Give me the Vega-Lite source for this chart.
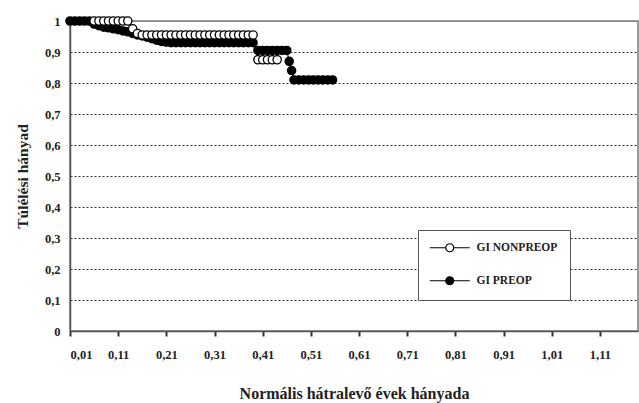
{
  "$schema": "https://vega.github.io/schema/vega-lite/v6.json",
  "width": 568,
  "height": 310,
  "autosize": {"type": "none"},
  "padding": {"left": 70, "top": 21, "right": 1, "bottom": 72},
  "background": "white",
  "config": {
    "font": "Liberation Serif",
    "view": {"stroke": "#777", "strokeWidth": 1.5}
  },
  "data": {
    "values": [
      {"s": "GI PREOP", "x": 0.01, "y": 1},
      {"s": "GI PREOP", "x": 0.02, "y": 1},
      {"s": "GI PREOP", "x": 0.03, "y": 1},
      {"s": "GI PREOP", "x": 0.04, "y": 1},
      {"s": "GI PREOP", "x": 0.05, "y": 1},
      {"s": "GI PREOP", "x": 0.06, "y": 0.99},
      {"s": "GI PREOP", "x": 0.07, "y": 0.985},
      {"s": "GI PREOP", "x": 0.08, "y": 0.98},
      {"s": "GI PREOP", "x": 0.09, "y": 0.978},
      {"s": "GI PREOP", "x": 0.10, "y": 0.975},
      {"s": "GI PREOP", "x": 0.11, "y": 0.972},
      {"s": "GI PREOP", "x": 0.12, "y": 0.968},
      {"s": "GI PREOP", "x": 0.13, "y": 0.965},
      {"s": "GI PREOP", "x": 0.14, "y": 0.96},
      {"s": "GI PREOP", "x": 0.15, "y": 0.955},
      {"s": "GI PREOP", "x": 0.16, "y": 0.952},
      {"s": "GI PREOP", "x": 0.17, "y": 0.948},
      {"s": "GI PREOP", "x": 0.18, "y": 0.943},
      {"s": "GI PREOP", "x": 0.19, "y": 0.938},
      {"s": "GI PREOP", "x": 0.20, "y": 0.934},
      {"s": "GI PREOP", "x": 0.21, "y": 0.932},
      {"s": "GI PREOP", "x": 0.22, "y": 0.93},
      {"s": "GI PREOP", "x": 0.23, "y": 0.93},
      {"s": "GI PREOP", "x": 0.24, "y": 0.93},
      {"s": "GI PREOP", "x": 0.25, "y": 0.93},
      {"s": "GI PREOP", "x": 0.26, "y": 0.93},
      {"s": "GI PREOP", "x": 0.27, "y": 0.93},
      {"s": "GI PREOP", "x": 0.28, "y": 0.93},
      {"s": "GI PREOP", "x": 0.29, "y": 0.93},
      {"s": "GI PREOP", "x": 0.30, "y": 0.93},
      {"s": "GI PREOP", "x": 0.31, "y": 0.93},
      {"s": "GI PREOP", "x": 0.32, "y": 0.93},
      {"s": "GI PREOP", "x": 0.33, "y": 0.93},
      {"s": "GI PREOP", "x": 0.34, "y": 0.93},
      {"s": "GI PREOP", "x": 0.35, "y": 0.93},
      {"s": "GI PREOP", "x": 0.36, "y": 0.93},
      {"s": "GI PREOP", "x": 0.37, "y": 0.93},
      {"s": "GI PREOP", "x": 0.38, "y": 0.93},
      {"s": "GI PREOP", "x": 0.39, "y": 0.93},
      {"s": "GI PREOP", "x": 0.40, "y": 0.905},
      {"s": "GI PREOP", "x": 0.41, "y": 0.905},
      {"s": "GI PREOP", "x": 0.42, "y": 0.905},
      {"s": "GI PREOP", "x": 0.43, "y": 0.905},
      {"s": "GI PREOP", "x": 0.44, "y": 0.905},
      {"s": "GI PREOP", "x": 0.45, "y": 0.905},
      {"s": "GI PREOP", "x": 0.46, "y": 0.905},
      {"s": "GI PREOP", "x": 0.465, "y": 0.87},
      {"s": "GI PREOP", "x": 0.47, "y": 0.84},
      {"s": "GI PREOP", "x": 0.475, "y": 0.81},
      {"s": "GI PREOP", "x": 0.485, "y": 0.81},
      {"s": "GI PREOP", "x": 0.495, "y": 0.81},
      {"s": "GI PREOP", "x": 0.505, "y": 0.81},
      {"s": "GI PREOP", "x": 0.515, "y": 0.81},
      {"s": "GI PREOP", "x": 0.525, "y": 0.81},
      {"s": "GI PREOP", "x": 0.535, "y": 0.81},
      {"s": "GI PREOP", "x": 0.545, "y": 0.81},
      {"s": "GI PREOP", "x": 0.555, "y": 0.81},
      {"s": "GI NONPREOP", "x": 0.06, "y": 1},
      {"s": "GI NONPREOP", "x": 0.07, "y": 1},
      {"s": "GI NONPREOP", "x": 0.08, "y": 1},
      {"s": "GI NONPREOP", "x": 0.09, "y": 1},
      {"s": "GI NONPREOP", "x": 0.10, "y": 1},
      {"s": "GI NONPREOP", "x": 0.11, "y": 1},
      {"s": "GI NONPREOP", "x": 0.12, "y": 1},
      {"s": "GI NONPREOP", "x": 0.13, "y": 1},
      {"s": "GI NONPREOP", "x": 0.14, "y": 0.975},
      {"s": "GI NONPREOP", "x": 0.15, "y": 0.96},
      {"s": "GI NONPREOP", "x": 0.16, "y": 0.955},
      {"s": "GI NONPREOP", "x": 0.17, "y": 0.955},
      {"s": "GI NONPREOP", "x": 0.18, "y": 0.955},
      {"s": "GI NONPREOP", "x": 0.19, "y": 0.955},
      {"s": "GI NONPREOP", "x": 0.20, "y": 0.955},
      {"s": "GI NONPREOP", "x": 0.21, "y": 0.955},
      {"s": "GI NONPREOP", "x": 0.22, "y": 0.955},
      {"s": "GI NONPREOP", "x": 0.23, "y": 0.955},
      {"s": "GI NONPREOP", "x": 0.24, "y": 0.955},
      {"s": "GI NONPREOP", "x": 0.25, "y": 0.955},
      {"s": "GI NONPREOP", "x": 0.26, "y": 0.955},
      {"s": "GI NONPREOP", "x": 0.27, "y": 0.955},
      {"s": "GI NONPREOP", "x": 0.28, "y": 0.955},
      {"s": "GI NONPREOP", "x": 0.29, "y": 0.955},
      {"s": "GI NONPREOP", "x": 0.30, "y": 0.955},
      {"s": "GI NONPREOP", "x": 0.31, "y": 0.955},
      {"s": "GI NONPREOP", "x": 0.32, "y": 0.955},
      {"s": "GI NONPREOP", "x": 0.33, "y": 0.955},
      {"s": "GI NONPREOP", "x": 0.34, "y": 0.955},
      {"s": "GI NONPREOP", "x": 0.35, "y": 0.955},
      {"s": "GI NONPREOP", "x": 0.36, "y": 0.955},
      {"s": "GI NONPREOP", "x": 0.37, "y": 0.955},
      {"s": "GI NONPREOP", "x": 0.38, "y": 0.955},
      {"s": "GI NONPREOP", "x": 0.39, "y": 0.955},
      {"s": "GI NONPREOP", "x": 0.40, "y": 0.875},
      {"s": "GI NONPREOP", "x": 0.41, "y": 0.875},
      {"s": "GI NONPREOP", "x": 0.42, "y": 0.875},
      {"s": "GI NONPREOP", "x": 0.43, "y": 0.875},
      {"s": "GI NONPREOP", "x": 0.44, "y": 0.875}
    ]
  },
  "encoding": {
    "x": {
      "field": "x",
      "type": "quantitative",
      "scale": {"domain": [0.01, 1.189], "nice": false, "zero": false},
      "axis": {
        "values": [0.01, 0.11, 0.21, 0.31, 0.41, 0.51, 0.61, 0.71, 0.81, 0.91, 1.01, 1.11],
        "labelExpr": "replace(format(datum.value, '.2f'), '.', ',')",
        "labelOverlap": false,
        "title": "Normális hátralevő évek hányada",
        "grid": false,
        "domainColor": "#555",
        "domainWidth": 1.5,
        "tickColor": "#333",
        "tickSize": 5,
        "tickWidth": 2,
        "labelFont": "Liberation Serif",
        "labelFontWeight": "bold",
        "labelFontSize": 12.5,
        "labelColor": "#222",
        "labelPadding": 12,
        "labelDx": -4,
        "titleFont": "Liberation Serif",
        "titleFontWeight": "bold",
        "titleFontSize": 16,
        "titleColor": "#222",
        "titlePadding": 25
      }
    },
    "y": {
      "field": "y",
      "type": "quantitative",
      "scale": {"domain": [0, 1], "nice": false},
      "axis": {
        "values": [0, 0.1, 0.2, 0.3, 0.4, 0.5, 0.6, 0.7, 0.8, 0.9, 1],
        "labelExpr": "datum.value == 0 ? '0' : datum.value == 1 ? '1' : replace(format(datum.value, '.1f'), '.', ',')",
        "labelOverlap": false,
        "title": "Túlélési hányad",
        "ticks": false,
        "tickSize": 0,
        "grid": true,
        "gridColor": {"condition": {"test": "datum.value == 1", "value": "#888"}, "value": "#333"},
        "gridDash": {"condition": {"test": "datum.value == 1", "value": []}, "value": [2, 2]},
        "gridWidth": 1,
        "domainColor": "#555",
        "domainWidth": 1.5,
        "labelFont": "Liberation Serif",
        "labelFontWeight": "bold",
        "labelFontSize": 12.5,
        "labelColor": "#222",
        "labelPadding": 10,
        "titleFont": "Liberation Serif",
        "titleFontWeight": "bold",
        "titleFontSize": 15.5,
        "titleColor": "#222",
        "titlePadding": 14
      }
    }
  },
  "layer": [
    {
      "mark": {"type": "line", "color": "black", "strokeWidth": 1},
      "encoding": {"detail": {"field": "s"}}
    },
    {
      "mark": {"type": "point", "shape": "circle", "filled": true, "stroke": "black", "strokeWidth": 1.3, "size": 68, "opacity": 1},
      "encoding": {
        "fill": {
          "field": "s",
          "type": "nominal",
          "scale": {"domain": ["GI NONPREOP", "GI PREOP"], "range": ["white", "black"]},
          "legend": {
            "title": null,
            "orient": "none",
            "legendX": 348,
            "legendY": 209,
            "direction": "vertical",
            "symbolType": "M-5,0H-1M1,0H5M-1,0A1,1,0,1,1,1,0A1,1,0,1,1,-1,0Z",
            "symbolSize": 64,
            "symbolStrokeColor": "black",
            "symbolStrokeWidth": 1.2,
            "symbolOffset": 14,
            "labelOffset": 21,
            "labelFont": "Liberation Serif",
            "labelFontWeight": "bold",
            "labelFontSize": 11.5,
            "labelColor": "#222",
            "rowPadding": 19,
            "padding": 12,
            "strokeColor": "#555",
            "fillColor": "white"
          }
        }
      }
    }
  ]
}
